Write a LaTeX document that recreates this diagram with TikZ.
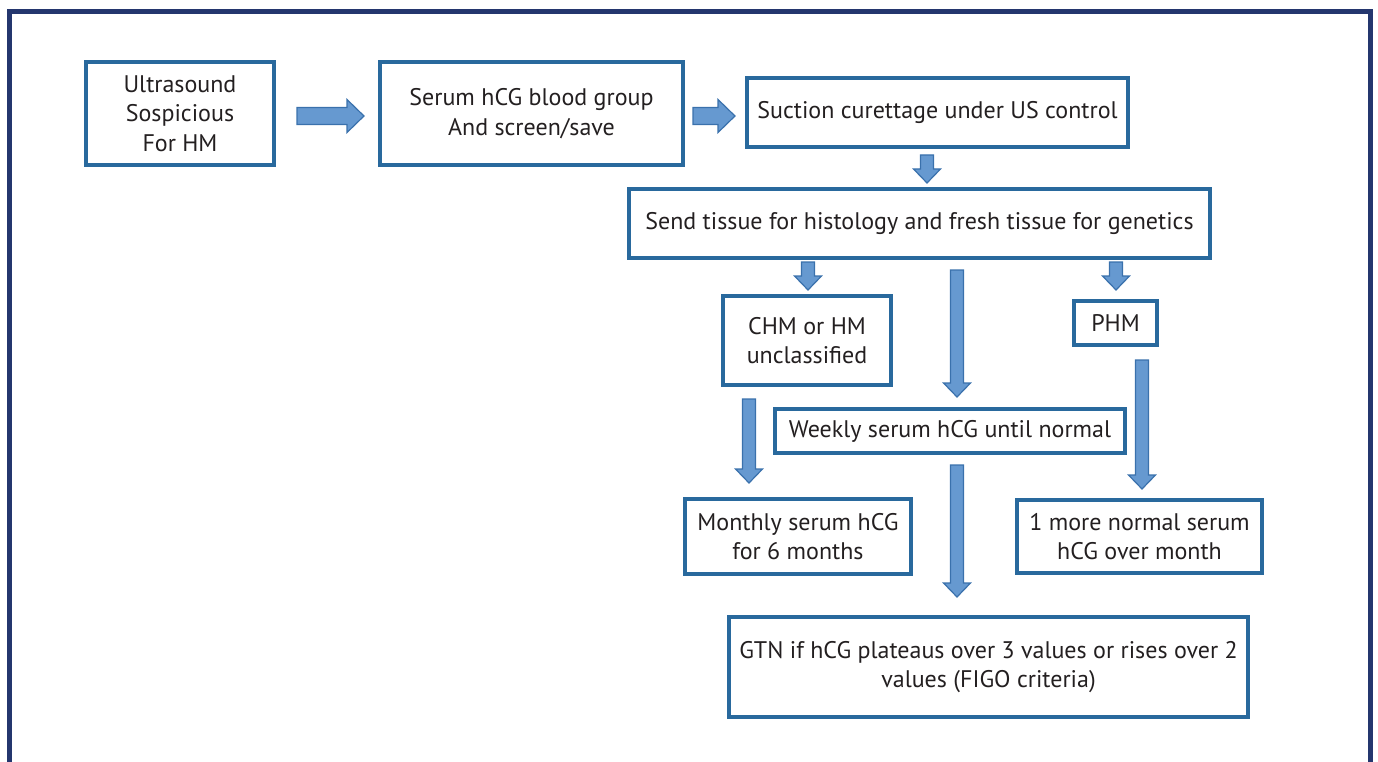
\documentclass[tikz,border=0pt]{standalone}
\usepackage{fontspec}
\setmainfont{PT Sans}
\usetikzlibrary{calc}
\definecolor{boxblue}{RGB}{41,105,157}
\definecolor{arrowfill}{RGB}{102,153,208}
\definecolor{arrowline}{RGB}{58,113,172}
\definecolor{framenavy}{RGB}{36,54,110}
\definecolor{textgray}{RGB}{35,31,32}
% Blockpfeil nach unten: x, von, nach, Abstand oben, Abstand unten
\newcommand{\barrowdown}[5]{%
  \draw[barrow] let \p1=(#2.south), \p2=(#3.north), \n1={\y1-#4}, \n2={\y2+#5} in
    (#1-6.5,\n1) -- (#1+6.5,\n1) -- (#1+6.5,\n2+14) -- (#1+13.5,\n2+14) -- (#1,\n2)
    -- (#1-13.5,\n2+14) -- (#1-6.5,\n2+14) -- cycle;}
% Blockpfeil nach rechts: y, von, nach, Abstand links, Abstand rechts
\newcommand{\barrowright}[5]{%
  \draw[barrow] let \p1=(#2.east), \p2=(#3.west), \n1={\x1+#4}, \n2={\x2-#5} in
    (\n1,#1+8.5) -- (\n1,#1-8.5) -- (\n2-17,#1-8.5) -- (\n2-17,#1-16.5) -- (\n2,#1)
    -- (\n2-17,#1+16.5) -- (\n2-17,#1+8.5) -- cycle;}

\begin{document}
\begin{tikzpicture}[x=1pt, y=1pt, font=\fontsize{24}{29.5}\selectfont, text=textgray,
  flowbox/.style={draw=boxblue, line width=4pt, inner sep=0pt, align=center},
  barrow/.style={fill=arrowfill, draw=arrowline, line width=1.2pt, line join=miter}]
  \useasboundingbox (0,0) rectangle (1378,-762);
  % Rahmen
  \draw[framenavy, line width=5pt] (9.5,-790) -- (9.5,-12) -- (1370,-12) -- (1370,-790);
  % Kaesten
  \node[flowbox, minimum width=188, minimum height=103] (us) at (180,-113.5) {Ultrasound\\Sospicious\\For HM};
  \node[flowbox, minimum width=303, minimum height=103] (serum) at (531.5,-113.5) {Serum hCG blood group\\And screen/save};
  \node[flowbox, minimum width=381, minimum height=69] (suction) at (937.5,-112.5) {Suction curettage under US control};
  \node[flowbox, minimum width=581, minimum height=69] (tissue) at (919.5,-223.5) {Send tissue for histology and fresh tissue for genetics};
  \node[flowbox, minimum width=168, minimum height=89] (chm) at (807,-340.5) {CHM or HM\\unclassified};
  \node[flowbox, minimum width=83, minimum height=44] (phm) at (1115.5,-323) {PHM};
  \node[flowbox, minimum width=350, minimum height=44] (weekly) at (950,-431) {Weekly serum hCG until normal};
  \node[flowbox, minimum width=226, minimum height=75] (monthly) at (798,-536.5) {Monthly serum hCG\\for 6 months};
  \node[flowbox, minimum width=245, minimum height=73] (more) at (1139.5,-536.5) {1 more normal serum\\hCG over month};
  \node[flowbox, minimum width=519, minimum height=100] (gtn) at (988.5,-667) {GTN if hCG plateaus over 3 values or rises over 2\\values (FIGO criteria)};
  % Pfeile
  \barrowright{-116}{us}{serum}{21}{14}
  \barrowright{-116}{serum}{suction}{8}{10}
  \barrowdown{927}{suction}{tissue}{6}{4}
  \barrowdown{808}{tissue}{chm}{2}{4}
  \barrowdown{957}{tissue}{weekly}{10}{10}
  \barrowdown{1116}{tissue}{phm}{2}{9}
  \barrowdown{749}{chm}{monthly}{12}{14}
  \barrowdown{1142}{phm}{more}{13}{9}
  \barrowdown{957}{weekly}{gtn}{10}{18}
\end{tikzpicture}
\end{document}
